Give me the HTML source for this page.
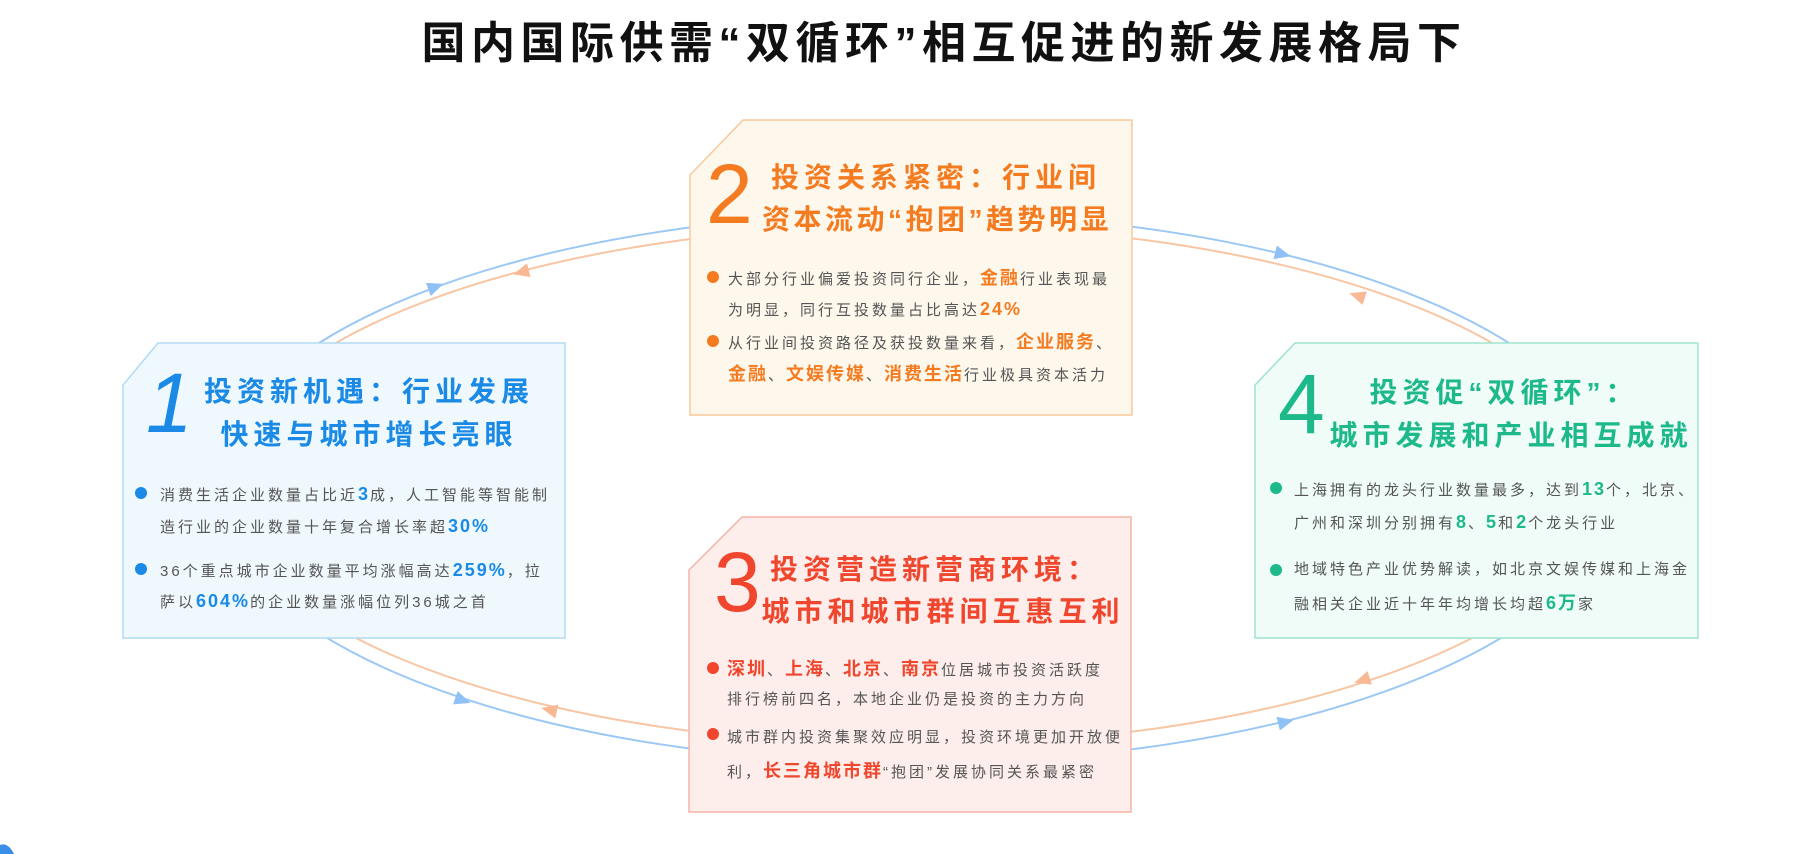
<!DOCTYPE html>
<html><head><meta charset="utf-8"><style>
*{margin:0;padding:0;box-sizing:border-box}
body{width:1796px;height:854px;background:#fff;position:relative;overflow:hidden;font-family:"Liberation Sans","Noto Sans CJK SC",sans-serif}
svg{position:absolute;left:0;top:0}
.t{position:absolute;white-space:nowrap;line-height:1}
.h{position:absolute;width:600px;text-align:center;white-space:nowrap;line-height:1;font-size:28px;font-weight:bold;letter-spacing:5px}
.n{position:absolute;font-size:84px;line-height:1;font-family:"Liberation Sans",sans-serif}
.b{position:absolute;font-size:15px;letter-spacing:3px;color:#555;white-space:nowrap;line-height:1}
.b b{font-size:18px;letter-spacing:2px}
.d{position:absolute;width:12px;height:12px;border-radius:50%}
</style></head><body>
<svg width="1796" height="854" viewBox="0 0 1796 854">
<ellipse cx="914" cy="488" rx="700" ry="275" fill="none" stroke="#9cc8f5" stroke-width="2"/>
<ellipse cx="914" cy="485" rx="690" ry="260" fill="none" stroke="#f8c6a4" stroke-width="2"/>
<g fill="#8fc1f7">
<polygon points="9,0 -7,-7 -7,7" transform="translate(435,287) rotate(-20)"/>
<polygon points="9,0 -7,-7 -7,7" transform="translate(1282,254) rotate(14)"/>
<polygon points="9,0 -7,-7 -7,7" transform="translate(462,700) rotate(19)"/>
<polygon points="9,0 -7,-7 -7,7" transform="translate(1285,722) rotate(-14)"/>
</g>
<g fill="#f8b894">
<polygon points="9,0 -7,-7 -7,7" transform="translate(522,272) rotate(165)"/>
<polygon points="9,0 -7,-7 -7,7" transform="translate(1358,296) rotate(198)"/>
<polygon points="9,0 -7,-7 -7,7" transform="translate(550,710) rotate(193)"/>
<polygon points="9,0 -7,-7 -7,7" transform="translate(1363,680) rotate(162)"/>
</g>
<polygon points="158,343 565,343 565,638 123,638 123,385" fill="#eef8fd" stroke="#b3daf3" stroke-width="1.5"/>
<polygon points="743,120 1132,120 1132,415 690,415 690,175" fill="#fdf7ec" stroke="#f8c99a" stroke-width="1.5"/>
<polygon points="742,517 1131,517 1131,812 689,812 689,570" fill="#fdeeeb" stroke="#f5b3a8" stroke-width="1.5"/>
<polygon points="1295,343 1698,343 1698,638 1255,638 1255,385" fill="#effcf8" stroke="#9fe3cd" stroke-width="1.5"/>
<path d="M0,845 Q8,842 14,854 L0,854Z" fill="#3a8ee6"/>
</svg>

<div class="t" style="left:0;width:1888px;text-align:center;top:22px;font-size:44px;font-weight:bold;letter-spacing:5.5px;color:#111">国内国际供需“双循环”相互促进的新发展格局下</div>

<!-- box 1 -->
<div class="n" style="left:146px;top:361px;color:#1a8ae6;font-style:italic">1</div>
<div class="h" style="left:69px;top:378px;color:#1a8ae6">投资新机遇：行业发展</div>
<div class="h" style="left:69px;top:421px;color:#1a8ae6">快速与城市增长亮眼</div>
<div class="d" style="left:135px;top:487px;background:#1a8ae6"></div>
<div class="b" style="left:160px;top:485px">消费生活企业数量占比近<b style="color:#1a8ae6">3</b>成，人工智能等智能制</div>
<div class="b" style="left:160px;top:517px">造行业的企业数量十年复合增长率超<b style="color:#1a8ae6">30%</b></div>
<div class="d" style="left:135px;top:563px;background:#1a8ae6"></div>
<div class="b" style="left:160px;top:561px">36个重点城市企业数量平均涨幅高达<b style="color:#1a8ae6">259%</b>，拉</div>
<div class="b" style="left:160px;top:592px">萨以<b style="color:#1a8ae6">604%</b>的企业数量涨幅位列36城之首</div>

<!-- box 2 -->
<div class="n" style="left:706px;top:152px;color:#f47b20">2</div>
<div class="h" style="left:636px;top:164px;color:#f47b20">投资关系紧密：行业间</div>
<div class="h" style="left:637px;top:206px;color:#f47b20;letter-spacing:3.5px">资本流动“抱团”趋势明显</div>
<div class="d" style="left:707px;top:271px;background:#f47b20"></div>
<div class="b" style="left:728px;top:269px">大部分行业偏爱投资同行企业，<b style="color:#f47b20">金融</b>行业表现最</div>
<div class="b" style="left:728px;top:300px">为明显，同行互投数量占比高达<b style="color:#f47b20">24%</b></div>
<div class="d" style="left:707px;top:335px;background:#f47b20"></div>
<div class="b" style="left:728px;top:333px">从行业间投资路径及获投数量来看，<b style="color:#f47b20">企业服务</b>、</div>
<div class="b" style="left:728px;top:365px"><b style="color:#f47b20">金融</b>、<b style="color:#f47b20">文娱传媒</b>、<b style="color:#f47b20">消费生活</b>行业极具资本活力</div>

<!-- box 3 -->
<div class="n" style="left:714px;top:540px;color:#f0462d">3</div>
<div class="h" style="left:635px;top:556px;color:#f0462d">投资营造新营商环境：</div>
<div class="h" style="left:643px;top:598px;color:#f0462d">城市和城市群间互惠互利</div>
<div class="d" style="left:707px;top:662px;background:#f0462d"></div>
<div class="b" style="left:727px;top:660px"><b style="color:#f0462d">深圳</b>、<b style="color:#f0462d">上海</b>、<b style="color:#f0462d">北京</b>、<b style="color:#f0462d">南京</b>位居城市投资活跃度</div>
<div class="b" style="left:727px;top:692px">排行榜前四名，本地企业仍是投资的主力方向</div>
<div class="d" style="left:707px;top:728px;background:#f0462d"></div>
<div class="b" style="left:727px;top:730px">城市群内投资集聚效应明显，投资环境更加开放便</div>
<div class="b" style="left:727px;top:762px">利，<b style="color:#f0462d">长三角城市群</b>“抱团”发展协同关系最紧密</div>

<!-- box 4 -->
<div class="n" style="left:1278px;top:362px;color:#1db98a">4</div>
<div class="h" style="left:1204px;top:379px;color:#1db98a">投资促“双循环”：</div>
<div class="h" style="left:1211px;top:422px;color:#1db98a">城市发展和产业相互成就</div>
<div class="d" style="left:1270px;top:482px;background:#1db98a"></div>
<div class="b" style="left:1294px;top:480px">上海拥有的龙头行业数量最多，达到<b style="color:#1db98a">13</b>个，北京、</div>
<div class="b" style="left:1294px;top:513px">广州和深圳分别拥有<b style="color:#1db98a">8</b>、<b style="color:#1db98a">5</b>和<b style="color:#1db98a">2</b>个龙头行业</div>
<div class="d" style="left:1270px;top:564px;background:#1db98a"></div>
<div class="b" style="left:1294px;top:562px">地域特色产业优势解读，如北京文娱传媒和上海金</div>
<div class="b" style="left:1294px;top:594px">融相关企业近十年年均增长均超<b style="color:#1db98a">6万</b>家</div>
</body></html>
